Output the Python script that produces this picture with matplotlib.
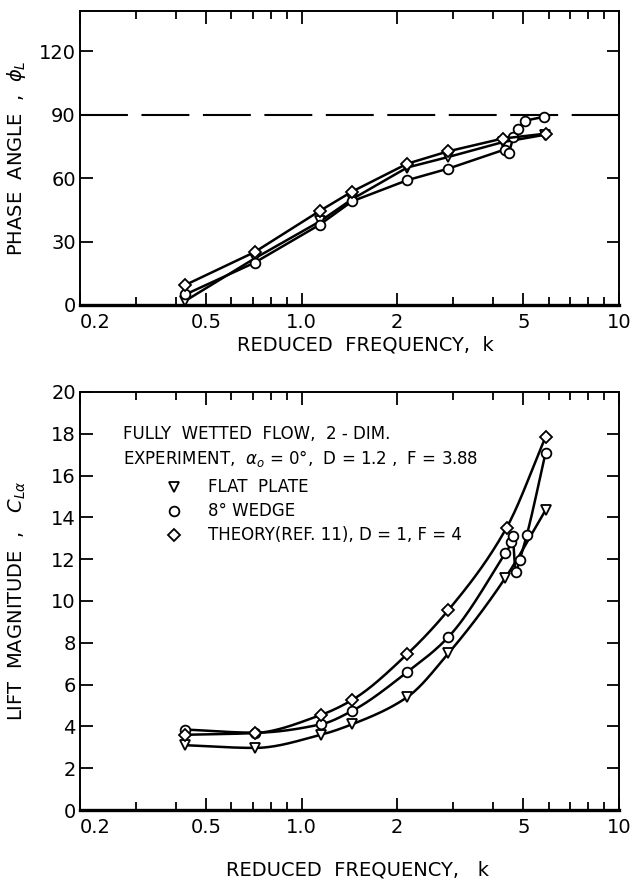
import numpy as np
import matplotlib
matplotlib.use("Agg")
import matplotlib.pyplot as plt
from matplotlib.ticker import FixedLocator, FixedFormatter, NullFormatter

# Phase angle data (reduced frequency k, phase in degrees)
k_tri_phase = [0.43, 0.71, 1.14, 1.44, 2.15, 2.9, 4.3, 5.85]
phi_tri = [2, 22, 39.5, 50, 65, 70, 77, 80.5]
k_circ_phase = [0.43, 0.71, 1.14, 1.44, 2.15, 2.9, 4.36, 4.5, 4.65, 4.8, 5.07, 5.82]
phi_circ = [5, 20, 38, 49, 59, 64.5, 73.5, 72, 79.6, 83.4, 87.2, 89]
k_dia_phase = [0.43, 0.71, 1.14, 1.44, 2.15, 2.9, 4.3, 5.87]
phi_dia = [9.5, 25, 44.5, 53.6, 66.8, 72.7, 78.7, 81]

# Lift magnitude data
k_tri_lift = [0.43, 0.71, 1.15, 1.44, 2.15, 2.9, 4.38, 5.87]
cl_tri = [3.1, 2.97, 3.6, 4.1, 5.4, 7.5, 11.1, 14.35]
k_circ_lift = [0.43, 0.71, 1.15, 1.44, 2.15, 2.9, 4.38, 4.58, 4.62, 4.72, 4.86, 5.12, 5.87]
cl_circ = [3.85, 3.7, 4.1, 4.74, 6.6, 8.28, 12.3, 12.8, 13.1, 11.4, 11.96, 13.15, 17.1]
k_dia_lift = [0.43, 0.71, 1.15, 1.44, 2.15, 2.9, 4.42, 5.87]
cl_dia = [3.6, 3.68, 4.55, 5.26, 7.46, 9.57, 13.5, 17.85]

x_ticks = [0.2, 0.5, 1.0, 2, 5, 10]
x_ticklabels = ["0.2", "0.5", "1.0", "2", "5", "10"]
x_minor = [0.3, 0.4, 0.6, 0.7, 0.8, 0.9, 3, 4, 6, 7, 8, 9]


def smooth(x, y, n=30):
    # monotone cubic (PCHIP) curve through the points, in log-k space
    lx = np.log10(np.asarray(x, float))
    y = np.asarray(y, float)
    h = np.diff(lx)
    d = np.diff(y) / h
    m = np.zeros_like(y)
    for i in range(1, len(y) - 1):
        if d[i - 1] * d[i] > 0:
            w1 = 2 * h[i] + h[i - 1]
            w2 = h[i] + 2 * h[i - 1]
            m[i] = (w1 + w2) / (w1 / d[i - 1] + w2 / d[i])
    m[0] = d[0]
    m[-1] = d[-1]
    xs, ys = [], []
    for i in range(len(h)):
        t = np.linspace(0, 1, n, endpoint=False)
        h00 = 2 * t ** 3 - 3 * t ** 2 + 1
        h10 = t ** 3 - 2 * t ** 2 + t
        h01 = -2 * t ** 3 + 3 * t ** 2
        h11 = t ** 3 - t ** 2
        xs.append(lx[i] + t * h[i])
        ys.append(h00 * y[i] + h10 * h[i] * m[i] + h01 * y[i + 1] + h11 * h[i] * m[i + 1])
    xs.append([lx[-1]])
    ys.append([y[-1]])
    return 10 ** np.concatenate(xs), np.concatenate(ys)


def style_axis(ax):
    ax.set_xscale("log")
    ax.set_xlim(0.2, 10)
    ax.xaxis.set_major_locator(FixedLocator(x_ticks))
    ax.xaxis.set_major_formatter(FixedFormatter(x_ticklabels))
    ax.xaxis.set_minor_locator(FixedLocator(x_minor))
    ax.xaxis.set_minor_formatter(NullFormatter())
    ax.tick_params(which="both", direction="in", top=True, right=True,
                   labelsize=14, width=1.3)
    ax.tick_params(axis="x", pad=6)
    ax.tick_params(axis="y", pad=3)
    ax.tick_params(which="major", length=9)
    ax.tick_params(which="minor", length=6)
    for s in ax.spines.values():
        s.set_linewidth(1.4)
    ax.spines["bottom"].set_linewidth(2.4)
    # first k label sits just right of the corner
    ax.get_xticklabels()[0].set_horizontalalignment("left")


mk = dict(markerfacecolor="white", markeredgecolor="black",
          markeredgewidth=1.3, color="black", linewidth=1.8)

fig = plt.figure(figsize=(6.37, 8.82), dpi=100)

# Phase angle
ax1 = fig.add_axes([80 / 637, 1 - 305 / 882, 539 / 637, 294 / 882])
style_axis(ax1)
ax1.set_ylim(0, 139)
ax1.set_yticks([0, 30, 60, 90, 120])
ax1.axhline(90, color="black", lw=1.5, dashes=(23, 6.5))
ax1.plot(k_tri_phase, phi_tri, marker="v", markersize=7, **mk)
ax1.plot(k_circ_phase, phi_circ, marker="o", markersize=7, **mk)
ax1.plot(k_dia_phase, phi_dia, marker="D", markersize=6, **mk)
ax1.set_xlabel("REDUCED  FREQUENCY,  k", fontsize=14)
ax1.xaxis.set_label_coords(0.53, -0.105)
ax1.set_ylabel(r"PHASE  ANGLE  ,  $\phi_L$", fontsize=14)
ax1.yaxis.set_label_coords(-0.097, 0.5)

# Lift magnitude
ax2 = fig.add_axes([80 / 637, 1 - 810 / 882, 539 / 637, 418 / 882])
style_axis(ax2)
ax2.set_ylim(0, 20)
ax2.set_yticks(range(0, 21, 2))
for kx, cy, m, ms in [(k_tri_lift, cl_tri, "v", 7),
                      (k_circ_lift, cl_circ, "o", 7),
                      (k_dia_lift, cl_dia, "D", 6)]:
    sx, sy = smooth(kx, cy)
    ax2.plot(sx, sy, color="black", lw=1.8)
    ax2.plot(kx, cy, linestyle="none", marker=m, markersize=ms,
             markerfacecolor="white", markeredgecolor="black",
             markeredgewidth=1.3)
ax2.set_ylabel(r"LIFT  MAGNITUDE  ,   $C_{L\alpha}$", fontsize=14)
ax2.yaxis.set_label_coords(-0.097, 0.5)
fig.text(357 / 637, 1 - 870 / 882, "REDUCED  FREQUENCY,   k", fontsize=14,
         ha="center", va="center")

# Annotations and key
tr = ax2.transAxes
ax2.text(0.08, 0.90, "FULLY  WETTED  FLOW,  2 - DIM.", transform=tr,
         fontsize=12, va="center")
ax2.text(0.08, 0.84, r"EXPERIMENT,  $\alpha_o$ = 0°,  D = 1.2 ,  F = 3.88",
         transform=tr, fontsize=12, va="center")
key = [("v", 7, "FLAT  PLATE"), ("o", 7, "8° WEDGE"),
       ("D", 6, "THEORY(REF. 11), D = 1, F = 4")]
for i, (m, ms, lab) in enumerate(key):
    yy = 0.772 - i * 0.057
    ax2.plot([0.175], [yy], transform=tr, linestyle="none", marker=m,
             markersize=ms, markerfacecolor="white", markeredgecolor="black",
             markeredgewidth=1.3)
    ax2.text(0.237, yy, lab, transform=tr, fontsize=12, va="center")

fig.savefig("out.png", dpi=100)
